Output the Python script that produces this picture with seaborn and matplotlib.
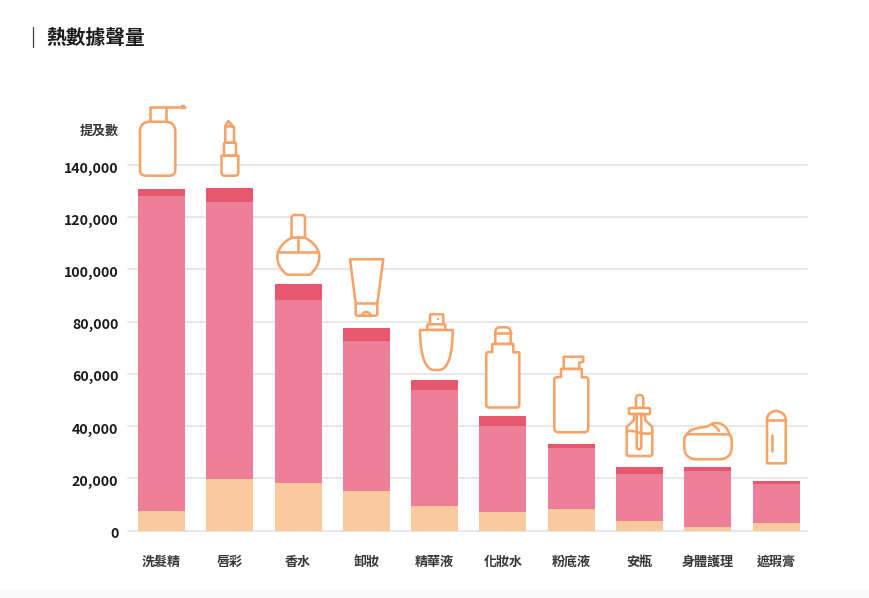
import matplotlib
matplotlib.use("Agg")
import matplotlib.pyplot as plt
import seaborn as sns
import pandas as pd
from matplotlib.path import Path
from matplotlib.patches import PathPatch, Rectangle
from matplotlib.transforms import Affine2D, ScaledTranslation
from matplotlib.ticker import FuncFormatter

W, H = 870, 598
sns.set_theme(style="white")
plt.rcParams['font.family'] = ['Noto Sans CJK TC', 'DejaVu Sans']

categories = ["洗髮精", "唇彩", "香水", "卸妝", "精華液", "化妝水", "粉底液", "安瓶", "身體護理", "遮瑕膏"]
low_seg = [7470, 19700, 18200, 15100, 9400, 7100, 8200, 3600, 1300, 2900]
mid_seg = [120600, 106100, 70100, 57500, 44400, 32900, 23400, 18000, 21500, 14900]
top_seg = [2700, 5400, 6100, 5000, 3850, 3900, 1500, 2700, 1500, 1200]
y_ticks = [0, 20000, 40000, 60000, 80000, 100000, 120000, 140000]

C_LOW, C_MID, C_TOP = "#FACA9F", "#ED8098", "#E7586E"
C_ICON, C_GRID, C_TEXT = "#F7A368", "#E3E3E7", "#1C1C1C"

fig = plt.figure(figsize=(W / 100, H / 100), dpi=100, facecolor="white")
L, R, T, B = 128, 807, 165, 530.5
ax = fig.add_axes([L / W, 1 - B / H, (R - L) / W, (B - T) / H])
df = pd.DataFrame({"cat": categories, "low": low_seg, "mid": mid_seg, "top": top_seg})
df["b2"] = df["low"] + df["mid"]
bw = 47 / 68.3
sns.barplot(data=df, x="cat", y="low", color=C_LOW, saturation=1, width=bw, ax=ax, zorder=3, linewidth=0)
sns.barplot(data=df, x="cat", y="mid", bottom=df["low"], color=C_MID, saturation=1, width=bw, ax=ax, zorder=3, linewidth=0)
sns.barplot(data=df, x="cat", y="top", bottom=df["b2"], color=C_TOP, saturation=1, width=bw, ax=ax, zorder=3, linewidth=0)

ax.set_xlim((L - 161.5) / 68.3, (R - 161.5) / 68.3)
ax.set_ylim(0, 140000)
ax.set_xlabel(""); ax.set_ylabel("")
ax.set_yticks(y_ticks)
ax.yaxis.set_major_formatter(FuncFormatter(lambda v, _: f"{int(v):,}"))
ax.grid(False)
ax.yaxis.grid(True, color=C_GRID, lw=1.2, zorder=1)
for ln in ax.get_ygridlines():
    ln.set_clip_on(False)
ax.set_axisbelow(True)
for s in ax.spines.values():
    s.set_visible(False)
ax.tick_params(axis="both", length=0)
ax.tick_params(axis="y", pad=7)
ax.tick_params(axis="x", pad=25.5)
off = ScaledTranslation(0, -2 / 100, fig.dpi_scale_trans)
for t in ax.get_yticklabels():
    t.set_fontweight("bold"); t.set_fontsize(10.2); t.set_color(C_TEXT)
    t.set_transform(t.get_transform() + off)
for t in ax.get_xticklabels():
    t.set_fontsize(9.4); t.set_fontweight("bold"); t.set_color("#383838")
    t.set_verticalalignment("baseline")

px = Affine2D().scale(1 / W, -1 / H).translate(0, 1) + fig.transFigure
fig.text(118.5 / W, 1 - 131 / H, "提及數", ha="right", va="center", fontsize=9.4, fontweight="bold", color="#383838")
fig.text(46 / W, 1 - 38.5 / H, "熱數據聲量", ha="left", va="center", fontsize=14.2, fontweight="bold", color=C_TEXT)
fig.add_artist(plt.Line2D([32.5 / W, 32.5 / W], [1 - 27 / H, 1 - 47 / H], color="#444444", lw=0.9))
fig.patches.append(Rectangle((0, 0), 1, 8 / H, transform=fig.transFigure, fc="#FBFBFC", ec="none", zorder=-1))

def parse(d):
    toks = d.split()
    verts, codes = [], []
    i = 0
    n = {"M": (1, Path.MOVETO), "L": (1, Path.LINETO), "Q": (2, Path.CURVE3), "C": (3, Path.CURVE4)}
    cmd = None
    while i < len(toks):
        if toks[i] == "Z":
            verts.append((0, 0)); codes.append(Path.CLOSEPOLY); i += 1; continue
        if toks[i] in n:
            cmd = toks[i]; i += 1
        k, code = n[cmd]
        for _ in range(k):
            verts.append((float(toks[i]), float(toks[i + 1]))); codes.append(code); i += 2
    return Path(verts, codes)

def rr(x0, y0, x1, y1, rt, rb):
    return (f"M {x0+rt} {y0} L {x1-rt} {y0} Q {x1} {y0} {x1} {y0+rt} L {x1} {y1-rb} Q {x1} {y1} {x1-rb} {y1} "
            f"L {x0+rb} {y1} Q {x0} {y1} {x0} {y1-rb} L {x0} {y0+rt} Q {x0} {y0} {x0+rt} {y0} Z")

filled = [
    # pump bottle
    "M 150 121.7 L 150 107.3 L 165.7 107.3 L 165.7 121.7 Z",
    rr(140, 121.7, 175.3, 175.7, 10, 6),
    # lipstick
    "M 225.3 142.7 L 225.3 126 L 228.3 121 L 234 127.3 L 234 142.7 Z",
    rr(224, 142.7, 236, 155.7, 1, 0),
    rr(221.5, 155.7, 238.3, 175.7, 0, 3),
    # perfume
    rr(291.5, 215, 305, 237.7, 3, 0),
    "M 291.5 237.7 L 305 237.7 C 315 243 319.3 250 319.3 257 C 319.3 264 315 270 310 274.7 L 287 274.7 C 281 270 277.3 264 277.3 257 C 277.3 250 282 243 291.5 237.7 Z",
    # tube
    "M 350 259.3 L 383.3 259.3 L 377.3 303.3 L 377.3 314 Q 377.3 315.7 375.5 315.7 L 357.5 315.7 Q 355.7 315.7 355.7 314 L 355.7 303.3 Z",
    # spray
    rr(430, 314.3, 443.3, 324.3, 1, 0),
    rr(427.3, 324.3, 445.3, 330, 1, 0),
    "M 420 330 L 452.7 330 C 452.7 345 451 362 444 368 Q 442 370 439 370 L 434 370 Q 431 370 429 368 C 422 362 420 345 420 330 Z",
    # toner
    rr(495.3, 327.3, 510.7, 344, 5, 0),
    "M 492.3 352 L 492.3 344 L 513.3 344 L 513.3 352.3 L 519.3 352.3 L 519.3 405 Q 519.3 407.5 517 407.5 L 489 407.5 Q 486.3 407.5 486.3 405 L 486.3 354 Q 486.3 352 489 352 Z",
    # foundation pump
    "M 563.7 369 L 563.7 356.7 L 583.3 356.7 L 583.3 361.7 L 579.3 362.7 L 579.3 369 Z",
    "M 561 377 L 561 369 L 581.7 369 L 581.7 377.3 L 586 377.3 Q 588.3 377.3 588.3 379.5 L 588.3 428 Q 588.3 432.3 584 432.3 L 559 432.3 Q 554.3 432.3 554.3 428 L 554.3 379.5 Q 554.3 377.3 557 377.3 Z",
    # dropper
    rr(636, 395, 643.3, 408, 3.6, 0),
    "M 634 414 L 645 414 L 645 420 L 652.3 427 L 652.3 454 Q 652.3 456 650 456 L 629 456 Q 626.7 456 626.7 454 L 626.7 427 L 634 420 Z",
    rr(629, 408, 650, 414, 1, 1),
    rr(636.7, 414, 641.3, 449.3, 0, 2.3),
    # jar
    "M 686.5 436 C 688 429.5 696 428 705 427 C 711 426 710 423 716 423 C 724 423 729 430 729.5 436 Z",
    "M 688 434.3 L 728 434.3 Q 731.7 435 731.7 440 L 731.7 447 C 731.7 455 727 459.3 719 459.3 L 697 459.3 C 689 459.3 684.3 455 684.3 447 L 684.3 440 Q 684.3 435 688 434.3 Z",
    # stick
    "M 767 420 C 767 414 772 411 776 411 C 780 411 785.7 414 785.7 420 L 785.7 463.3 L 767 463.3 Z",
]
opened = [
    "M 165.7 107.3 L 185 107.3",
    "M 225.3 127 L 229 126 L 234 127.3",
    "M 278.5 251.7 L 318.5 251.7",
    "M 298.3 237.7 L 298.3 251.7",
    "M 355.7 303.3 L 377.3 303.3",
    "M 361.5 315.5 Q 366 308 371 315.5",
    "M 495.3 333.3 L 510.7 333.3",
    "M 626.7 432 C 633 428 640 436 652.3 433",
    "M 713 425 Q 717 427 719 431",
    "M 767 420 L 785.7 420",
    "M 772 435 L 772 451",
]
LW = 1.85
for d in filled:
    ax.add_patch(PathPatch(parse(d), fc="white", ec=C_ICON, lw=LW, transform=px, clip_on=False, zorder=5, joinstyle="round"))
for d in opened:
    ax.add_patch(PathPatch(parse(d), fc="none", ec=C_ICON, lw=LW, transform=px, clip_on=False, zorder=6, capstyle="round"))
ax.add_patch(PathPatch(parse("M 181 107.3 L 185.5 107.3"), fc="none", ec=C_ICON, lw=3.2, transform=px, clip_on=False, zorder=6))
ax.add_patch(PathPatch(parse("M 437.3 318.7 L 439.3 318.7"), fc="none", ec=C_ICON, lw=1.4, transform=px, clip_on=False, zorder=6))

fig.savefig("out.png", dpi=100, facecolor="white")
